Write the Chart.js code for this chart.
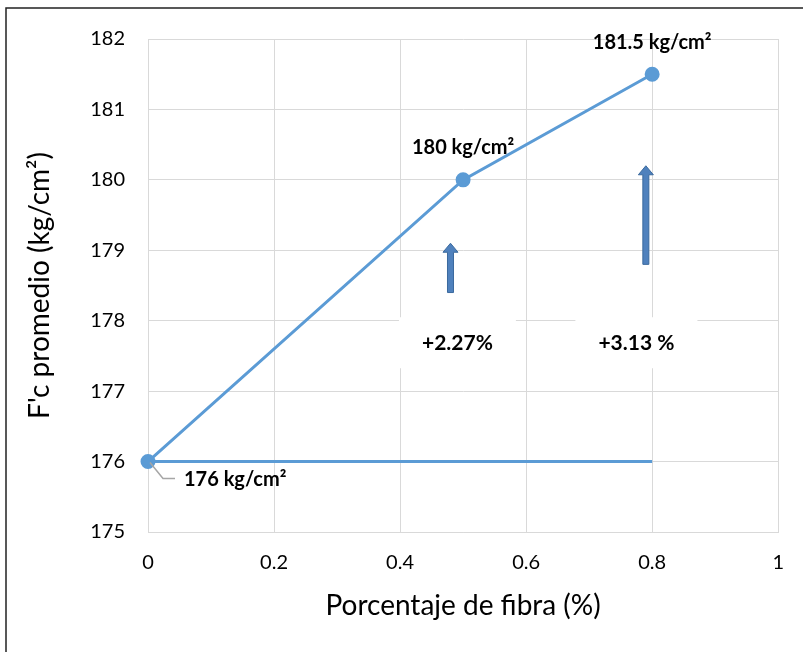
<!DOCTYPE html>
<html>
<head>
<meta charset="utf-8">
<script src="https://cdn.jsdelivr.net/npm/chart.js@4.4.0/dist/chart.umd.min.js"></script>
<style>
  html, body { margin: 0; padding: 0; background: #fff; }
  #wrap { width: 803px; height: 652px; position: relative; }
</style>
</head>
<body>
<div id="wrap"><canvas id="fc-chart" width="803" height="652"></canvas></div>
<script>
// values
const fibra = [0, 0.5, 0.8]
const fcProm = [176, 180, 181.5]
const fcLabels = ['176 kg/cm²', '180 kg/cm²', '181.5 kg/cm²']
const baseX = [0, 0.8]
const baseY = [176, 176]
const xTickLabels = ['0', '0.2', '0.4', '0.6', '0.8', '1']
const yTicks = [175, 176, 177, 178, 179, 180, 181, 182]

// arrows and percent notes
const arrowX = [0.48, 0.79]
const arrowFrom = [178.4, 178.8]
const arrowTo = [179.1, 180.2]
const pctText = ['+2.27%', '+3.13 %']
const pctX = [0.491, 0.775]
const pctY = [177.68, 177.68]

const FONT = 'Lato, "Open Sans", sans-serif'
const BLUE = '#5b9bd5'

const notesPlugin = {
  id: 'notes',
  beforeDatasetsDraw(chart) {
    const {ctx, scales: {x, y}} = chart
    ctx.save()
    // white boxes with percent text
    ctx.font = 'bold 21px ' + FONT
    pctText.forEach((t, i) => {
      const cx = x.getPixelForValue(pctX[i])
      const cy = y.getPixelForValue(pctY[i])
      const w = ctx.measureText(t).width + 46
      ctx.fillStyle = '#fff'
      ctx.fillRect(cx - w / 2, cy - 26, w, 51)
      ctx.fillStyle = '#000'
      ctx.textAlign = 'center'
      ctx.textBaseline = 'middle'
      ctx.fillText(t, cx, cy)
    })
    // block arrows
    arrowX.forEach((v, i) => {
      const ax = x.getPixelForValue(v)
      const y0 = y.getPixelForValue(arrowFrom[i])
      const y1 = y.getPixelForValue(arrowTo[i])
      const sw = 3, hw = 7.5, hl = 9
      ctx.beginPath()
      ctx.moveTo(ax - sw, y0)
      ctx.lineTo(ax - sw, y1 + hl)
      ctx.lineTo(ax - hw, y1 + hl)
      ctx.lineTo(ax, y1)
      ctx.lineTo(ax + hw, y1 + hl)
      ctx.lineTo(ax + sw, y1 + hl)
      ctx.lineTo(ax + sw, y0)
      ctx.closePath()
      ctx.fillStyle = '#4f81bd'
      ctx.fill()
      ctx.strokeStyle = '#3b6a9e'
      ctx.lineWidth = 1
      ctx.stroke()
    })
    ctx.restore()
  },
  afterDatasetsDraw(chart) {
    const {ctx, scales: {x, y}} = chart
    ctx.save()
    ctx.font = 'bold 20px ' + FONT
    ctx.fillStyle = '#000'
    ctx.textBaseline = 'middle'
    fibra.forEach((v, i) => {
      const px = x.getPixelForValue(v)
      const py = y.getPixelForValue(fcProm[i])
      if (i === 0) {
        // leader line to the label
        ctx.strokeStyle = '#a6a6a6'
        ctx.lineWidth = 1.5
        ctx.beginPath()
        ctx.moveTo(px + 2, py + 1)
        ctx.lineTo(px + 15, py + 17)
        ctx.lineTo(px + 27, py + 17)
        ctx.stroke()
        ctx.textAlign = 'left'
        ctx.fillText(fcLabels[i], px + 36, py + 18)
      } else {
        ctx.textAlign = 'center'
        ctx.fillText(fcLabels[i], px, py - 32)
      }
    })
    ctx.restore()
  },
  afterDraw(chart) {
    const {ctx} = chart
    ctx.save()
    ctx.strokeStyle = '#222'
    ctx.lineWidth = 1.5
    ctx.beginPath()
    ctx.moveTo(6, 652)
    ctx.lineTo(6, 8)
    ctx.lineTo(803, 8)
    ctx.stroke()
    ctx.restore()
  }
}

const ctx = document.getElementById('fc-chart')
new Chart(ctx, {
  type: 'scatter',
  data: {
    datasets: [
      {
        label: 'Base',
        data: baseX.map((v, i) => ({x: v, y: baseY[i]})),
        showLine: true,
        borderColor: BLUE,
        borderWidth: 3,
        pointRadius: 0,
        clip: false
      },
      {
        label: "F'c promedio",
        data: fibra.map((v, i) => ({x: v, y: fcProm[i]})),
        showLine: true,
        borderColor: BLUE,
        backgroundColor: BLUE,
        borderWidth: 3,
        pointRadius: 6,
        pointBackgroundColor: BLUE,
        pointBorderColor: BLUE,
        clip: false
      }
    ]
  },
  options: {
    responsive: false,
    animation: false,
    layout: {padding: {top: 39, right: 24, left: 0, bottom: 0}},
    plugins: {legend: {display: false}, tooltip: {enabled: false}},
    scales: {
      x: {
        type: 'linear',
        min: 0,
        max: 1,
        afterFit: s => { s.height = 120 },
        afterBuildTicks: s => { s.ticks = xTickLabels.map(t => ({value: parseFloat(t)})) },
        grid: {color: '#d9d9d9', drawTicks: false},
        border: {color: '#d9d9d9'},
        ticks: {
          padding: 19,
          color: '#000',
          font: {family: FONT, size: 20},
          callback: (v, i) => xTickLabels[i]
        },
        title: {
          display: true,
          text: 'Porcentaje de fibra (%)',
          color: '#000',
          font: {family: FONT, size: 28},
          padding: {bottom: 29}
        }
      },
      y: {
        min: 175,
        max: 182,
        afterFit: s => { s.width = 148 },
        afterBuildTicks: s => { s.ticks = yTicks.map(v => ({value: v})) },
        grid: {color: '#d9d9d9', drawTicks: false},
        border: {color: '#d9d9d9'},
        ticks: {
          padding: 23,
          color: '#000',
          font: {family: FONT, size: 20}
        },
        title: {
          display: true,
          text: "F'c promedio (kg/cm²)",
          color: '#000',
          font: {family: FONT, size: 28},
          padding: {top: 23}
        }
      }
    }
  },
  plugins: [notesPlugin]
})
</script>
</body>
</html>
